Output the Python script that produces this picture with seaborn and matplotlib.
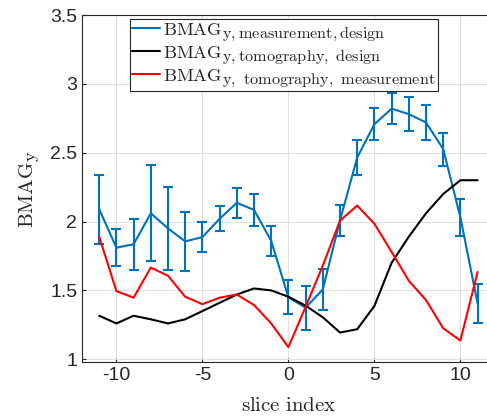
import numpy as np
import pandas as pd
import matplotlib
matplotlib.use("Agg")
import matplotlib.pyplot as plt
import matplotlib.mathtext
import seaborn as sns
from matplotlib.lines import Line2D

try:
    import matplotlib._mathtext as _mt
    _mt.SHRINK_FACTOR = 0.88
except Exception:
    pass

slice_index = list(range(-11, 12))
bmag_meas_design = [2.09, 1.81, 1.835, 2.06, 1.95, 1.856, 1.887, 2.02, 2.136, 2.085, 1.86, 1.45,
                    1.374, 1.507, 2.008, 2.465, 2.707, 2.82, 2.78, 2.72, 2.526, 2.03, 1.405]
bmag_meas_err = [0.25, 0.135, 0.185, 0.35, 0.30, 0.215, 0.11, 0.09, 0.11, 0.115, 0.11, 0.125,
                 0.16, 0.146, 0.11, 0.125, 0.115, 0.11, 0.123, 0.127, 0.12, 0.135, 0.145]
bmag_tomo_design = [1.316, 1.26, 1.316, 1.29, 1.26, 1.29, 1.35, 1.41, 1.47, 1.514, 1.50, 1.454,
                    1.389, 1.305, 1.194, 1.218, 1.387, 1.70, 1.89, 2.06, 2.20, 2.30, 2.30]
bmag_tomo_meas = [1.89, 1.495, 1.447, 1.666, 1.606, 1.454, 1.40, 1.447, 1.47, 1.394, 1.26, 1.088,
                  1.38, 1.68, 2.006, 2.116, 1.984, 1.78, 1.57, 1.43, 1.225, 1.136, 1.634]

labels = [r'$\mathrm{BMAG}_{\mathrm{y,measurement,design}}$',
          r'$\mathrm{BMAG}_{\mathrm{y,tomography,\ design}}$',
          r'$\mathrm{BMAG}_{\mathrm{y,\ tomography,\ measurement}}$']
colors = ['#0072BD', '#000000', '#FF0000']

sns.set_style('ticks')
plt.rcParams['font.family'] = ['Liberation Sans', 'DejaVu Sans']
plt.rcParams['mathtext.fontset'] = 'cm'
plt.rcParams['axes.unicode_minus'] = False

fig = plt.figure(figsize=(4.87, 4.2), dpi=100)
ax = fig.add_axes([82/487, 58/420, 412.8/487, 347/420])

df = pd.DataFrame({'x': slice_index * 3,
                   'y': bmag_meas_design + bmag_tomo_design + bmag_tomo_meas,
                   'series': [labels[0]]*23 + [labels[1]]*23 + [labels[2]]*23})

ax.errorbar(slice_index, bmag_meas_design, yerr=bmag_meas_err, fmt='none',
            ecolor=colors[0], elinewidth=1.5, capsize=3.5, capthick=1.5, zorder=3)
sns.lineplot(data=df, x='x', y='y', hue='series', palette=colors, hue_order=labels,
             linewidth=1.5, ax=ax, legend=False, zorder=3)

ax.set_xlim(-12, 12)
ax.set_ylim(0.98, 3.5)
ax.set_xticks([-10, -5, 0, 5, 10])
ax.set_yticks([1, 1.5, 2, 2.5, 3, 3.5])
ax.set_yticklabels(['1', '1.5', '2', '2.5', '3', '3.5'])
ax.grid(True, color='#e0e0e0', linewidth=0.8)
ax.tick_params(direction='in', length=3, labelsize=14, colors='#262626', width=0.8)
for s in ax.spines.values():
    s.set_color('#262626')
    s.set_linewidth(0.8)
ax.set_xlabel(r'$\mathrm{slice\ index}$', fontsize=15, color='#262626', labelpad=9)
ax.set_ylabel(r'$\mathrm{BMAG}_{\mathrm{y}}$', fontsize=15, color='#262626', labelpad=6)

handles = [Line2D([0], [0], color=c, lw=1.5) for c in colors]
leg = fig.legend(handles, labels, loc='upper left', bbox_to_anchor=(130/487, 1-19/420),
                 fontsize=13.3, frameon=True, fancybox=False, framealpha=1,
                 edgecolor='#262626', handlelength=1.5, handletextpad=0.2,
                 labelspacing=0.08, borderpad=0.1, borderaxespad=0)
leg.get_frame().set_linewidth(0.8)

fig.savefig('out.png', dpi=100)
